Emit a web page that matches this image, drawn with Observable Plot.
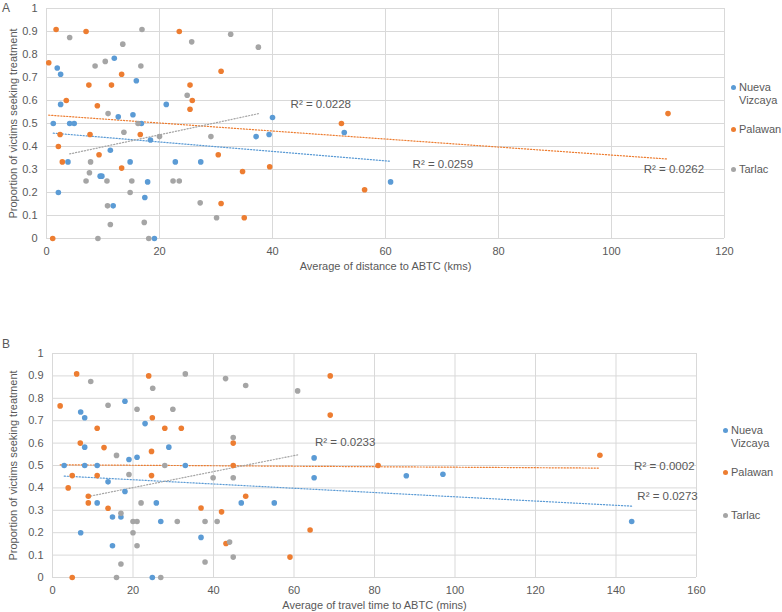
<!DOCTYPE html>
<html><head><meta charset="utf-8">
<script src="https://cdn.jsdelivr.net/npm/d3@7"></script>
<script src="https://cdn.jsdelivr.net/npm/@observablehq/plot@0.6"></script>
<style>
body{margin:0;background:#fff;font-family:"Liberation Sans",Arial,sans-serif;}
#wrap{position:relative;width:782px;height:612px;overflow:hidden;}
.panel{position:absolute;left:0;}
.tag{position:absolute;left:2px;font-size:12px;line-height:14px;color:#595959;}
.item{position:absolute;font-size:11px;line-height:13px;color:#595959;white-space:nowrap;}
.dot{position:absolute;width:5px;height:5px;border-radius:50%;top:4px;}
</style></head>
<body><div id="wrap"></div>
<script>
const series = ["Nueva Vizcaya", "Palawan", "Tarlac"];
const colors = ["#5B9BD5", "#ED7D31", "#A5A5A5"];
const yTicks = [0, 0.1, 0.2, 0.3, 0.4, 0.5, 0.6, 0.7, 0.8, 0.9, 1];
const yLabel = "Proportion of victims seeking treatment";

// Panel A: distance (kms)
const distTicks = [0, 20, 40, 60, 80, 100, 120];
const distLabel = "Average of distance to ABTC (kms)";
const distNuevaX = [1.9,2.5,2.5,1.2,4.1,4.9,2.1,3.8,12.0,15.9,12.7,15.3,16.8,11.3,9.5,9.8,14.8,11.8,17.9,17.4,18.4,19.1,21.2,22.8,27.3,37.1,39.4,40.0,52.7,60.9];
const distNuevaY = [0.741,0.714,0.583,0.5,0.5,0.5,0.2,0.333,0.784,0.686,0.529,0.538,0.5,0.384,0.271,0.271,0.333,0.142,0.246,0.178,0.428,0,0.583,0.333,0.333,0.443,0.452,0.526,0.461,0.246];
const distPalawanX = [0.4,1.7,1.1,7.0,7.5,11.5,13.3,3.5,9.0,2.4,7.7,2.1,2.8,9.3,13.3,16.6,23.5,25.4,25.8,25.4,30.9,30.4,30.9,34.7,35.0,39.5,52.2,56.3,110.0];
const distPalawanY = [0.764,0.909,0,0.9,0.667,0.667,0.714,0.6,0.577,0.452,0.452,0.4,0.333,0.364,0.306,0.452,0.9,0.667,0.6,0.562,0.727,0.364,0.152,0.291,0.09,0.312,0.5,0.212,0.543];
const distTarlacX = [4.1,16.9,13.5,25.7,32.6,37.5,8.6,10.4,16.7,24.9,10.9,16.2,13.7,20.0,29.1,7.8,7.6,7.0,10.7,15.1,22.4,23.5,14.8,10.8,11.3,17.3,27.2,30.1,9.1,18.1];
const distTarlacY = [0.874,0.909,0.845,0.855,0.888,0.832,0.75,0.77,0.75,0.623,0.543,0.5,0.462,0.443,0.443,0.333,0.286,0.25,0.25,0.25,0.25,0.25,0.2,0.142,0.061,0.07,0.155,0.09,0,0];
const distR2Text = ["R² = 0.0259", "R² = 0.0262", "R² = 0.0228"];
const distR2X = [64.8, 105.7, 43.2];
const distR2Y = [0.322, 0.30, 0.583];

// Panel B: travel time (mins)
const timeTicks = [0, 20, 40, 60, 80, 100, 120, 140, 160];
const timeLabel = "Average of travel time to ABTC (mins)";
const timeNuevaX = [7.0,8.0,8.0,2.9,8.0,11.1,7.0,11.1,13.8,18.0,23.0,19.0,21.0,18.0,14.9,17.0,14.9,25.8,26.9,24.8,28.9,33.0,36.9,46.9,55.1,65.0,65.0,87.9,97.0,143.9];
const timeNuevaY = [0.739,0.713,0.582,0.5,0.5,0.5,0.2,0.333,0.427,0.787,0.687,0.527,0.537,0.384,0.27,0.27,0.142,0.333,0.25,0,0.582,0.5,0.179,0.333,0.333,0.534,0.445,0.454,0.461,0.25];
const timePalawanX = [1.9,6.0,4.9,6.9,11.1,12.8,4.9,3.9,8.9,8.9,11.1,13.8,23.9,24.8,24.6,24.6,27.9,32.0,36.9,42.0,43.1,44.9,44.9,48.0,69.0,69.0,80.9,64.0,59.0,136.0];
const timePalawanY = [0.766,0.909,0,0.6,0.666,0.58,0.455,0.4,0.363,0.333,0.455,0.309,0.9,0.713,0.563,0.455,0.666,0.666,0.31,0.293,0.152,0.6,0.5,0.363,0.9,0.725,0.5,0.212,0.091,0.546];
const timeTarlacX = [9.5,33.0,24.9,43.0,48.0,13.8,21.0,29.9,44.9,15.9,19.0,27.9,39.9,44.9,22.0,17.0,20.0,21.0,31.0,37.9,40.9,20.0,21.0,44.0,17.0,37.9,44.9,15.9,26.9,60.9];
const timeTarlacY = [0.875,0.909,0.845,0.888,0.857,0.769,0.751,0.751,0.625,0.545,0.46,0.5,0.445,0.445,0.333,0.287,0.25,0.25,0.25,0.25,0.25,0.2,0.142,0.158,0.06,0.069,0.091,0,0,0.833];
const timeR2Text = ["R² = 0.0273", "R² = 0.0002", "R² = 0.0233"];
const timeR2X = [145.3, 144.5, 65.2];
const timeR2Y = [0.361, 0.495, 0.604];

const FONT = '"Liberation Sans", Arial, sans-serif';
const TEXT = "#595959";
const GRID = "#d9d9d9";

function makePanel(o) {
  const data = series.flatMap((s, i) => o.xs[i].map((x, j) => ({series: s, x, y: o.ys[i][j]})));
  const r2 = o.r2Text.map((t, i) => ({text: t, x: o.r2X[i], y: o.r2Y[i]}));
  return Plot.plot({
    width: 782, height: o.height,
    marginLeft: o.ml, marginRight: o.mr, marginTop: o.mt, marginBottom: o.mb,
    style: {fontFamily: FONT, fontSize: "11px", color: TEXT, background: "white", overflow: "visible"},
    x: {domain: [o.xTicks[0], o.xTicks[o.xTicks.length - 1]]},
    y: {domain: [0, 1]},
    color: {domain: series, range: colors},
    marks: [
      Plot.gridX(o.xTicks, {stroke: GRID, strokeOpacity: 1, strokeWidth: 1}),
      Plot.gridY(yTicks, {stroke: GRID, strokeOpacity: 1, strokeWidth: 1}),
      Plot.axisX(o.xTicks, {tickSize: 0, tickPadding: 9, fill: TEXT, fontSize: 11, label: o.xLabel, labelAnchor: "center", labelArrow: "none", labelOffset: 31}),
      Plot.axisY(yTicks, {tickSize: 0, tickPadding: 9, fill: TEXT, fontSize: 11, tickFormat: d => String(d), label: yLabel, labelAnchor: "center", labelArrow: "none", labelOffset: o.ml - 9}),
      Plot.linearRegressionY(data, {x: "x", y: "y", stroke: "series", ci: 0, strokeWidth: 1.2, strokeDasharray: "1.2 1.8"}),
      Plot.dot(data, {x: "x", y: "y", fill: "series", r: 2.8}),
      Plot.text(r2, {x: "x", y: "y", text: "text", textAnchor: "start", fill: TEXT, fontSize: 11.5})
    ]
  });
}

function legend(parent, dotLeft, textLeft, tops) {
  series.forEach((s, i) => {
    const d = document.createElement("div");
    d.className = "item";
    d.style.left = textLeft + "px";
    d.style.top = tops[i] + "px";
    d.innerHTML = s.replace(" ", "<br>");
    const dot = document.createElement("span");
    dot.className = "dot";
    dot.style.background = colors[i];
    dot.style.left = (dotLeft - textLeft - 2.5) + "px";
    d.appendChild(dot);
    parent.appendChild(d);
  });
}

const wrap = document.getElementById("wrap");
const a = makePanel({xs: [distNuevaX, distPalawanX, distTarlacX], ys: [distNuevaY, distPalawanY, distTarlacY],
  xTicks: distTicks, xLabel: distLabel, r2Text: distR2Text, r2X: distR2X, r2Y: distR2Y,
  height: 280, ml: 46, mr: 58, mt: 8, mb: 42});
a.classList.add("panel"); a.style.top = "0px";
wrap.appendChild(a);
const b = makePanel({xs: [timeNuevaX, timePalawanX, timeTarlacX], ys: [timeNuevaY, timePalawanY, timeTarlacY],
  xTicks: timeTicks, xLabel: timeLabel, r2Text: timeR2Text, r2X: timeR2X, r2Y: timeR2Y,
  height: 332, ml: 52, mr: 86, mt: 73, mb: 35});
b.classList.add("panel"); b.style.top = "280px";
wrap.appendChild(b);

const tA = document.createElement("div"); tA.className = "tag"; tA.style.top = "1px"; tA.textContent = "A"; wrap.appendChild(tA);
const tB = document.createElement("div"); tB.className = "tag"; tB.style.top = "337px"; tB.textContent = "B"; wrap.appendChild(tB);
legend(wrap, 733, 739, [81, 123, 163]);
legend(wrap, 725, 731, [424, 466, 509]);
</script></body></html>
